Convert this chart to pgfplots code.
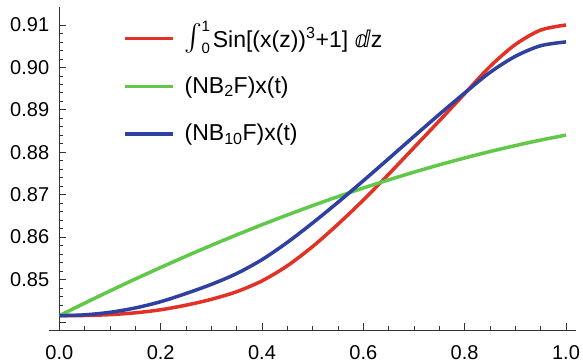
\documentclass[border=0pt]{standalone}
\usepackage{amsmath}
\usepackage{fontspec}
\setmainfont{Liberation Sans}
\newfontfamily\dejavu{DejaVu Sans}
\usepackage{graphicx}
\usepackage{pgfplots}
\pgfplotsset{compat=1.18}
\definecolor{cred}{RGB}{226,50,38}
\definecolor{cgreen}{RGB}{98,200,74}
\definecolor{cblue}{RGB}{46,64,160}
\newcommand{\intlim}[1]{{\fontsize{15bp}{15bp}\selectfont #1}}
\begin{document}
\fontsize{20bp}{24bp}\selectfont
\begin{tikzpicture}
\begin{axis}[
  scale only axis, width=526.9bp, height=323.3bp,
  xmin=-0.02, xmax=1.02, ymin=0.8381, ymax=0.9143,
  axis x line=bottom, axis y line=middle,
  axis line style={-, black!80, line width=0.8bp},
  hide obscured x ticks=false, hide obscured y ticks=false,
  tick align=inside,
  major tick length=6.7bp, minor tick length=4bp,
  every tick/.style={black!80, line width=0.7bp},
  xtick={0,0.2,0.4,0.6,0.8,1.0},
  xticklabels={0.0,0.2,0.4,0.6,0.8,1.0},
  ytick={0.84,0.85,0.86,0.87,0.88,0.89,0.90,0.91},
  yticklabels={{},0.85,0.86,0.87,0.88,0.89,0.90,0.91},
  minor x tick num=3, minor y tick num=4,
  xticklabel style={anchor=north, inner sep=0pt, yshift=-15bp},
  yticklabel style={anchor=east, inner sep=0pt, xshift=-10bp},
  tick label style={font=\fontsize{20bp}{24bp}\selectfont},
  legend cell align=left,
  legend style={at={(rel axis cs:0.140,0.9375)}, anchor=north west, draw=none, fill=none,
    inner sep=0pt, row sep=26bp, nodes={inner sep=0pt},
    font=\fontsize{23bp}{27bp}\selectfont,
    /tikz/every odd column/.append style={column sep=10bp}},
  legend image code/.code={\path (0bp,-10bp); \draw[#1] (0bp,0bp) -- (48bp,0bp);},
]
\addplot[cred, line width=3.5bp, smooth] coordinates {
(0.00,0.84147)(0.05,0.84152)(0.10,0.84172)(0.15,0.84215)(0.20,0.84287)(0.25,0.84395)
(0.30,0.84533)(0.35,0.84713)(0.40,0.84968)(0.45,0.85323)(0.50,0.85778)(0.55,0.86303)
(0.60,0.86873)(0.65,0.87481)(0.70,0.88110)(0.75,0.88740)(0.80,0.89380)(0.85,0.90020)
(0.90,0.90538)(0.95,0.90878)(1.00,0.90998)};
\addlegendentry{\smash{\raisebox{2bp}{\scalebox{1.08}{$\int$}}\kern-1bp\rlap{\raisebox{16bp}{\intlim{1}}}\raisebox{-6bp}{\intlim{0}}}\kern3bp Sin[(x(z))\textsuperscript{3}+1] {\dejavu ⅆ}z}
\addplot[cgreen, line width=3.5bp, smooth] coordinates {
(0.00,0.84147)(0.05,0.84443)(0.10,0.84731)(0.15,0.85012)(0.20,0.85284)(0.25,0.85549)
(0.30,0.85805)(0.35,0.86052)(0.40,0.86291)(0.45,0.86521)(0.50,0.86742)(0.55,0.86954)
(0.60,0.87156)(0.65,0.87348)(0.70,0.87530)(0.75,0.87703)(0.80,0.87864)(0.85,0.88016)
(0.90,0.88156)(0.95,0.88286)(1.00,0.88404)};
\addlegendentry{(NB\textsubscript{2}F)x(t)}
\addplot[cblue, line width=3.5bp, smooth] coordinates {
(0.00,0.84147)(0.05,0.84167)(0.10,0.84227)(0.15,0.84330)(0.20,0.84477)(0.25,0.84670)
(0.30,0.84885)(0.35,0.85140)(0.40,0.85468)(0.45,0.85875)(0.50,0.86333)(0.55,0.86820)
(0.60,0.87328)(0.65,0.87848)(0.70,0.88373)(0.75,0.88893)(0.80,0.89396)(0.85,0.89880)
(0.90,0.90260)(0.95,0.90510)(1.00,0.90600)};
\addlegendentry{(NB\textsubscript{10}F)x(t)}
\coordinate (sw) at (rel axis cs:0,0);
\end{axis}
\pgfresetboundingbox
\path[use as bounding box] ([shift={(-49.2bp,-32bp)}]sw) rectangle ([shift={(533.8bp,330bp)}]sw);
\end{tikzpicture}
\end{document}
